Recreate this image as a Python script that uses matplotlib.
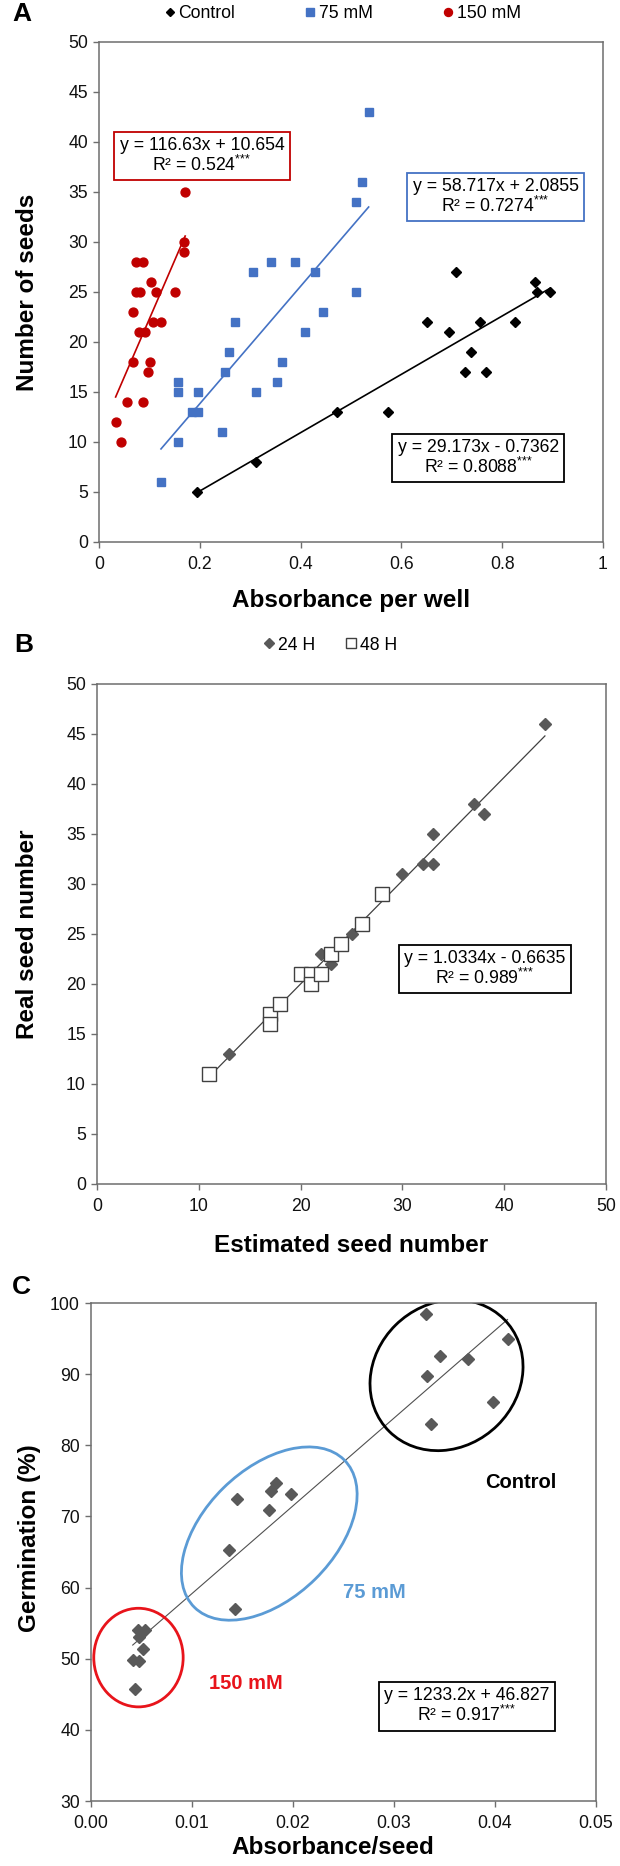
import numpy as np
import matplotlib.pyplot as plt
from matplotlib.patches import Ellipse

plt.rcParams['font.family'] = ['Liberation Sans', 'DejaVu Sans']
plt.rcParams['mathtext.fontset'] = 'custom'
plt.rcParams['mathtext.rm'] = 'Liberation Sans'

# ---- panel A: absorbance per well vs seed number
ctrl_x = [0.195, 0.312, 0.473, 0.573, 0.650, 0.694, 0.708, 0.727, 0.739, 0.755,
          0.768, 0.825, 0.865, 0.870, 0.895]
ctrl_y = [5, 8, 13, 13, 22, 21, 27, 17, 19, 22, 17, 22, 26, 25, 25]
mm75_x = [0.123, 0.157, 0.157, 0.157, 0.185, 0.197, 0.196, 0.244, 0.250, 0.257,
          0.270, 0.306, 0.311, 0.342, 0.354, 0.364, 0.388, 0.408, 0.429, 0.445,
          0.509, 0.509, 0.522, 0.535]
mm75_y = [6, 10, 15, 16, 13, 13, 15, 11, 17, 19, 22, 27, 15, 28, 16, 18, 28, 21,
          27, 23, 25, 34, 36, 43]
mm150_x = [0.171, 0.169, 0.169, 0.073, 0.088, 0.103, 0.073, 0.081, 0.114, 0.150,
           0.068, 0.107, 0.124, 0.079, 0.091, 0.068, 0.101, 0.098, 0.055, 0.088,
           0.033, 0.043]
mm150_y = [35, 30, 29, 28, 28, 26, 25, 25, 25, 25, 23, 22, 22, 21, 21, 18, 18, 17,
           14, 14, 12, 10]
fitA_slope = [29.173, 58.717, 116.63]
fitA_icpt = [-0.7362, 2.0855, 10.654]
STARS = '$^{{*}{*}{*}}$'
fitA_text = ["y = 29.173x - 0.7362\nR² = 0.8088" + STARS,
             "y = 58.717x + 2.0855\nR² = 0.7274" + STARS,
             "y = 116.63x + 10.654\nR² = 0.524" + STARS]

# ---- panel B: estimated vs real seed number
b24_est = [44, 37, 38, 33, 32, 33, 30, 25, 22, 23, 13]
b24_real = [46, 38, 37, 35, 32, 32, 31, 25, 23, 22, 13]
b48_est = [11, 17, 17, 18, 20, 21, 21, 22, 23, 24, 26, 28]
b48_real = [11, 17, 16, 18, 21, 21, 20, 21, 23, 24, 26, 29]
fitB = (1.0334, -0.6635)

# ---- panel C: absorbance per seed vs germination
c_abs = [0.03315, 0.04124, 0.03459, 0.03729, 0.03323, 0.03980, 0.03362,
         0.01833, 0.01785, 0.01985, 0.01449, 0.01766, 0.01363, 0.01430,
         0.00463, 0.00530, 0.00471, 0.00518, 0.00413, 0.00480, 0.00440]
c_germ = [98.4, 94.9, 92.5, 92.1, 89.8, 86.1, 83.0,
          74.7, 73.6, 73.2, 72.5, 70.9, 65.3, 57.0,
          54.0, 54.0, 53.0, 51.3, 49.8, 49.7, 45.8]
fitC = (1233.2, 46.827)

W, H = 620, 1866
fig = plt.figure(figsize=(W / 100, H / 100), dpi=100)
SPINE = '#6e6e6e'


def make_axes(l, r, t, b):
    ax = fig.add_axes([l / W, 1 - b / H, (r - l) / W, (b - t) / H])
    for s in ax.spines.values():
        s.set_color(SPINE)
        s.set_linewidth(1.1)
    ax.tick_params(direction='out', length=4, width=1, color=SPINE,
                   labelsize=12.7, labelcolor='#111111')
    ax.tick_params(axis='x', pad=6)
    ax.tick_params(axis='y', pad=4)
    return ax


def box(ax, x, y, txt, ec, transform=None):
    ax.text(x, y, txt, ha='center', va='center', fontsize=12.7,
            multialignment='center', linespacing=1.05,
            transform=transform or ax.transData, zorder=5,
            bbox=dict(boxstyle='square,pad=0.3', fc='white', ec=ec, lw=1.3))


# ================= A =================
axA = make_axes(99, 603, 42, 542)
axA.plot(ctrl_x, ctrl_y, 'D', color='black', ms=5, ls='none', label='Control')
axA.plot(mm75_x, mm75_y, 's', color='#4472C4', ms=6.2, ls='none', label='75 mM')
axA.plot(mm150_x, mm150_y, 'o', color='#C00000', ms=6.4, ls='none', label='150 mM')
cols = ['black', '#4472C4', '#C00000']
for xs, m, c, col in zip([ctrl_x, mm75_x, mm150_x], fitA_slope, fitA_icpt, cols):
    xx = np.array([min(xs), max(xs)])
    axA.plot(xx, m * xx + c, color=col, lw=1.2)
axA.set_xlim(0, 1)
axA.set_ylim(0, 50)
axA.set_xticks([0, 0.2, 0.4, 0.6, 0.8, 1])
axA.set_xticklabels(['0', '0.2', '0.4', '0.6', '0.8', '1'])
axA.set_yticks(range(0, 51, 5))
box(axA, 0.7526, 8.4, fitA_text[0], 'black')
box(axA, 0.787, 34.5, fitA_text[1], '#4472C4')
box(axA, 0.2044, 38.6, fitA_text[2], '#C00000')
fig.legend(*axA.get_legend_handles_labels(), loc='center',
           bbox_to_anchor=(343 / W, 1 - 14 / H), ncol=3, frameon=False,
           fontsize=12.7, handlelength=0.5, handletextpad=0.25,
           columnspacing=4.0, markerscale=0.9)
fig.text(12 / W, 1 - 14 / H, 'A', fontsize=19, fontweight='bold', va='center')
fig.text(351 / W, 1 - 600 / H, 'Absorbance per well', fontsize=17.5,
         fontweight='bold', ha='center', va='center')
fig.text(28 / W, 1 - 292 / H, 'Number of seeds', fontsize=17.5,
         fontweight='bold', ha='center', va='center', rotation=90)

# ================= B =================
axB = make_axes(97, 606, 684, 1184)
xx = np.array([min(b48_est + b24_est), max(b48_est + b24_est)])
axB.plot(xx, fitB[0] * xx + fitB[1], color='#404040', lw=0.9, zorder=1)
axB.plot(b24_est, b24_real, 'D', color='#595959', ms=6.5, ls='none', label='24 H')
axB.plot(b48_est, b48_real, 's', mfc='white', mec='#404040', mew=1.0, ms=10,
         ls='none', label='48 H', zorder=2)
axB.set_xlim(0, 50)
axB.set_ylim(0, 50)
axB.set_xticks(range(0, 51, 10))
axB.set_yticks(range(0, 51, 5))
box(axB, 38.07, 21.5, "y = 1.0334x - 0.6635\nR² = 0.989" + STARS, 'black')
fig.legend(*axB.get_legend_handles_labels(), loc='center',
           bbox_to_anchor=(331 / W, 1 - 645 / H), ncol=2, frameon=False,
           fontsize=12.7, handlelength=0.5, handletextpad=0.25,
           columnspacing=1.8, markerscale=0.75)
fig.text(14 / W, 1 - 645 / H, 'B', fontsize=19, fontweight='bold', va='center')
fig.text(351 / W, 1 - 1245 / H, 'Estimated seed number', fontsize=17.5,
         fontweight='bold', ha='center', va='center')
fig.text(28 / W, 1 - 934 / H, 'Real seed number', fontsize=17.5,
         fontweight='bold', ha='center', va='center', rotation=90)

# ================= C =================
axC = make_axes(91, 596, 1303, 1801)
xx = np.array([min(c_abs), max(c_abs)])
axC.plot(xx, fitC[0] * xx + fitC[1], color='#505050', lw=0.8, zorder=1)
axC.plot(c_abs, c_germ, 'D', color='#595959', ms=6.5, ls='none', zorder=3)
axC.set_xlim(0, 0.05)
axC.set_ylim(30, 100)
axC.set_xticks(np.arange(0, 0.051, 0.01))
axC.set_xticklabels(['0.00', '0.01', '0.02', '0.03', '0.04', '0.05'])
axC.set_yticks(range(30, 101, 10))
# group ellipses (axes fraction coordinates)
axC.add_patch(Ellipse((0.704, 0.855), 0.32, 0.285, angle=45, fill=False,
                      ec='black', lw=2, transform=axC.transAxes))
axC.add_patch(Ellipse((0.353, 0.537), 0.419, 0.258, angle=45, fill=False,
                      ec='#5B9BD5', lw=2, transform=axC.transAxes))
axC.add_patch(Ellipse((0.094, 0.288), 0.177, 0.198, angle=0, fill=False,
                      ec='#E8141B', lw=2, transform=axC.transAxes))
axC.text(0.85, 0.639, 'Control', transform=axC.transAxes, fontsize=14.5,
         fontweight='bold', ha='center', va='center')
axC.text(0.561, 0.418, '75 mM', transform=axC.transAxes, fontsize=14.5,
         fontweight='bold', ha='center', va='center', color='#5B9BD5')
axC.text(0.306, 0.236, '150 mM', transform=axC.transAxes, fontsize=14.5,
         fontweight='bold', ha='center', va='center', color='#E8141B')
box(axC, 0.744, 0.19, "y = 1233.2x + 46.827\nR² = 0.917" + STARS, 'black',
    transform=axC.transAxes)
fig.text(12 / W, 1 - 1287 / H, 'C', fontsize=19, fontweight='bold', va='center')
fig.text(333 / W, 1 - 1848 / H, 'Absorbance/seed', fontsize=17.5,
         fontweight='bold', ha='center', va='center')
fig.text(30 / W, 1 - 1538 / H, 'Germination (%)', fontsize=17.5,
         fontweight='bold', ha='center', va='center', rotation=90)

fig.savefig('out.png', dpi=100)
